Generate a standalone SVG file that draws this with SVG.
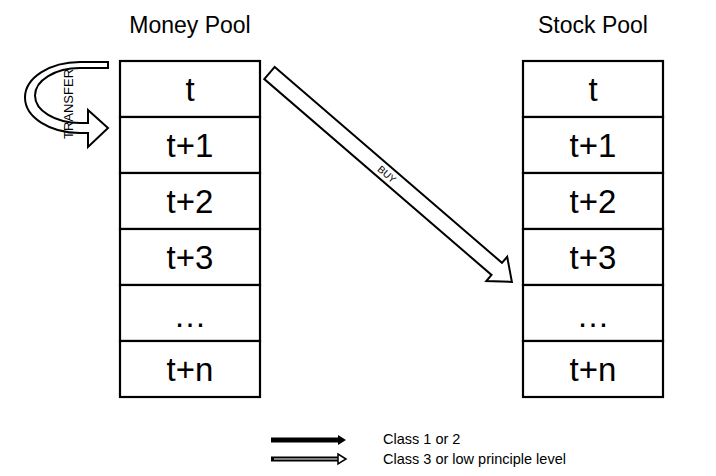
<svg xmlns="http://www.w3.org/2000/svg" width="716" height="476" viewBox="0 0 716 476">
<style>
.cell{fill:#fff;stroke:#000;stroke-width:2.2}
.ct{font-family:"Liberation Sans",Arial,sans-serif;font-size:33px;fill:#000;text-anchor:middle}
.title{font-family:"Liberation Sans",Arial,sans-serif;font-size:23px;fill:#000;text-anchor:middle}
.leg{font-family:"Liberation Sans",Arial,sans-serif;font-size:14.5px;fill:#000}
.arr{fill:#fff;stroke:#000;stroke-width:2;stroke-linejoin:miter}
</style>
<rect width="716" height="476" fill="#fff"/>
<g id="money-pool">
<text class="title" x="190" y="33">Money Pool</text>
<rect class="cell" x="120" y="61" width="140" height="56"/><text class="ct" x="190" y="101">t</text>
<rect class="cell" x="120" y="117" width="140" height="56"/><text class="ct" x="190" y="157">t+1</text>
<rect class="cell" x="120" y="173" width="140" height="56"/><text class="ct" x="190" y="213">t+2</text>
<rect class="cell" x="120" y="229" width="140" height="56"/><text class="ct" x="190" y="269">t+3</text>
<rect class="cell" x="120" y="285" width="140" height="56"/><text class="ct" x="190" y="327">…</text>
<rect class="cell" x="120" y="341" width="140" height="56"/><text class="ct" x="190" y="381">t+n</text>
</g>
<g id="stock-pool">
<text class="title" x="593" y="33">Stock Pool</text>
<rect class="cell" x="523" y="61" width="140" height="56"/><text class="ct" x="593" y="101">t</text>
<rect class="cell" x="523" y="117" width="140" height="56"/><text class="ct" x="593" y="157">t+1</text>
<rect class="cell" x="523" y="173" width="140" height="56"/><text class="ct" x="593" y="213">t+2</text>
<rect class="cell" x="523" y="229" width="140" height="56"/><text class="ct" x="593" y="269">t+3</text>
<rect class="cell" x="523" y="285" width="140" height="56"/><text class="ct" x="593" y="327">…</text>
<rect class="cell" x="523" y="341" width="140" height="56"/><text class="ct" x="593" y="381">t+n</text>
</g>
<g id="connectors">
<g id="transfer">
<path class="arr" d="M108,62 L80,62 A55,35.5 0 0 0 80,133 L88,133 L88,147 L108,128 L88,110 L88,123 L80,123 A45,27.5 0 0 1 80,68 L108,68 Z"/>
<text x="0" y="0" transform="translate(73,104) rotate(-90)" font-family="Liberation Sans, Arial, sans-serif" font-size="13" text-anchor="middle">TRANSFER</text>
</g>
<g id="buy" transform="translate(269.5,73) rotate(40.76)">
<path class="arr" d="M0,-8 H300 V-16 L320,0 L300,16 V8 H0 Z"/>
<text x="155" y="3.5" font-family="Liberation Sans, Arial, sans-serif" font-size="10" text-anchor="middle">BUY</text>
</g>
</g>
<g id="legend">
<line x1="271" y1="440" x2="339" y2="440" stroke="#000" stroke-width="5"/>
<polygon points="338,435 346,440 338,445" fill="#000"/>
<line x1="271" y1="459" x2="339" y2="459" stroke="#000" stroke-width="5"/>
<line x1="274" y1="459" x2="340" y2="459" stroke="#fff" stroke-width="1.2"/>
<polygon points="338,454 346,459 338,464" fill="#fff" stroke="#000" stroke-width="1.5"/>
<text class="leg" x="383" y="444">Class 1 or 2</text>
<text class="leg" x="383" y="464">Class 3 or low principle level</text>
</g>
</svg>
